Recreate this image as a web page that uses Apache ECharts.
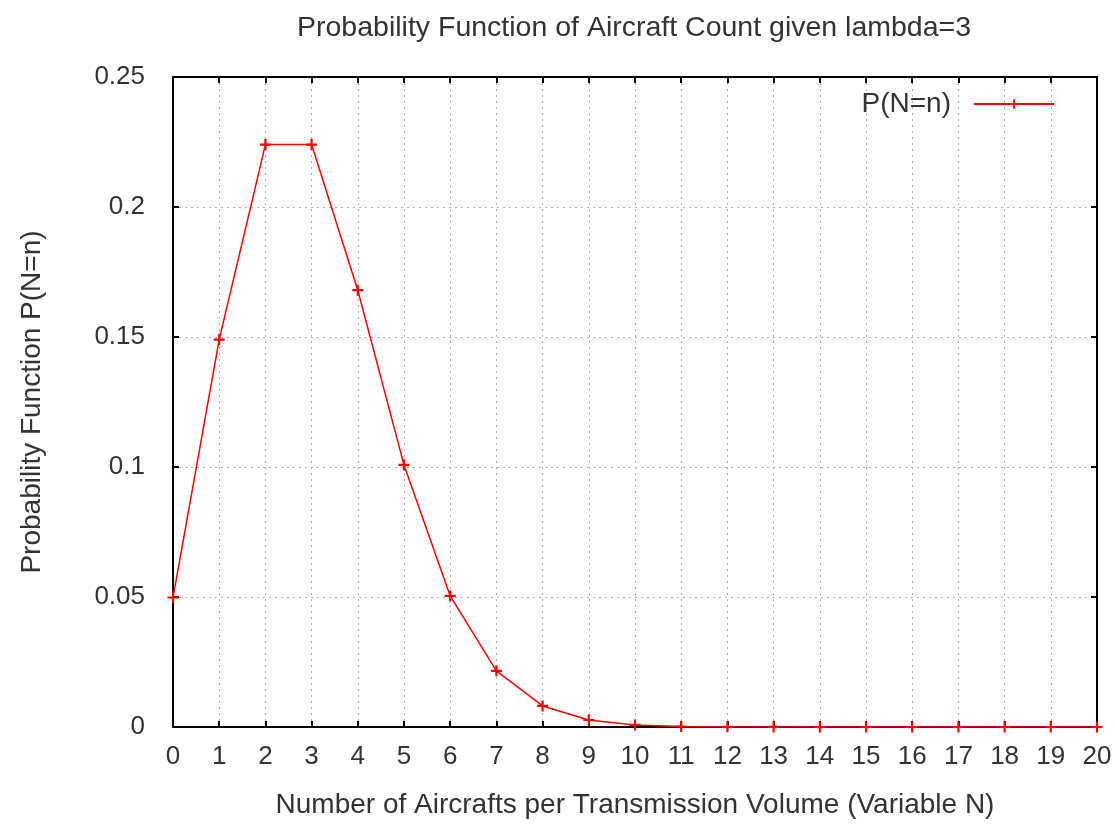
<!DOCTYPE html>
<html>
<head>
<meta charset="utf-8">
<script src="https://cdn.jsdelivr.net/npm/echarts@6/dist/echarts.min.js"></script>
<style>
  html, body { margin: 0; padding: 0; background: #fff; }
  #chart { width: 1115px; height: 825px; }
</style>
</head>
<body>
<div id="chart"></div>
<script>
// aircraft count n
var counts = [0, 1, 2, 3, 4, 5, 6, 7, 8, 9, 10, 11, 12, 13, 14, 15, 16, 17, 18, 19, 20];
// P(N=n)
var probs = [0.0498, 0.149, 0.224, 0.224, 0.168, 0.1008, 0.0504, 0.0216, 0.0081, 0.0027,
  0.0008, 0.0002, 0.00005, 0.00001, 0, 0, 0, 0, 0, 0, 0];
var yTicks = [0, 0.05, 0.1, 0.15, 0.2, 0.25];

var font = "Liberation Sans";
var txt = "#333";
var plus = "path://M4,0h2v4h4v2h-4v4h-2v-4h-4v-2h4z";

var myChart = echarts.init(document.getElementById("chart"));
var pts = counts.map(function (n, i) { return [n, probs[i]]; });

var gridLine = { show: true, lineStyle: { color: "#b0b0b0", type: [2, 4], width: 1 } };
var axisBlack = { show: true, onZero: false, lineStyle: { color: "#000", width: 2 } };
var tickIn = { show: true, inside: true, length: 6, lineStyle: { color: "#000", width: 2 } };

myChart.setOption({
  animation: false,
  title: {
    text: "Probability Function of Aircraft Count given lambda=3",
    left: 292,
    top: 9,
    textStyle: { fontFamily: font, fontSize: 28.5, fontWeight: "normal", color: txt },
  },
  legend: {
    data: ["P(N=n)"],
    right: 55,
    top: 85,
    align: "right",
    itemWidth: 80,
    itemHeight: 12,
    textStyle: { fontFamily: font, fontSize: 28, color: txt, padding: [0, 18, 0, 0] },
  },
  grid: { left: 173, right: 18, top: 77, bottom: 98 },
  xAxis: [
    {
      type: "value",
      min: 0,
      max: 20,
      interval: 1,
      name: "Number of Aircrafts per Transmission Volume (Variable N)",
      nameLocation: "middle",
      nameGap: 64,
      nameTextStyle: { fontFamily: font, fontSize: 28, color: txt },
      axisLine: axisBlack,
      axisTick: tickIn,
      axisLabel: { fontFamily: font, fontSize: 26, color: txt, margin: 17 },
      splitLine: gridLine,
    },
    {
      type: "value",
      position: "top",
      min: 0,
      max: 20,
      interval: 1,
      axisLine: axisBlack,
      axisTick: tickIn,
      axisLabel: { show: false },
      splitLine: { show: false },
    },
  ],
  yAxis: [
    {
      type: "value",
      min: 0,
      max: 0.25,
      interval: 0.05,
      name: "Probability Function P(N=n)",
      nameLocation: "middle",
      nameGap: 127,
      nameTextStyle: { fontFamily: font, fontSize: 28, color: txt },
      axisLine: axisBlack,
      axisTick: tickIn,
      axisLabel: {
        fontFamily: font, fontSize: 26, color: txt, margin: 28,
        formatter: function (v) {
          var t = yTicks.find(function (k) { return Math.abs(k - v) < 1e-9; });
          return String(t === undefined ? v : t);
        },
      },
      splitLine: gridLine,
    },
    {
      type: "value",
      position: "right",
      min: 0,
      max: 0.25,
      interval: 0.05,
      axisLine: axisBlack,
      axisTick: tickIn,
      axisLabel: { show: false },
      splitLine: { show: false },
    },
  ],
  series: [
    {
      name: "P(N=n)",
      type: "line",
      data: pts,
      symbol: plus,
      symbolSize: 11,
      showAllSymbol: true,
      lineStyle: { color: "#ff0000", width: 1.5 },
      itemStyle: { color: "#ff0000" },
      z: 1,
    },
  ],
});
</script>
</body>
</html>
